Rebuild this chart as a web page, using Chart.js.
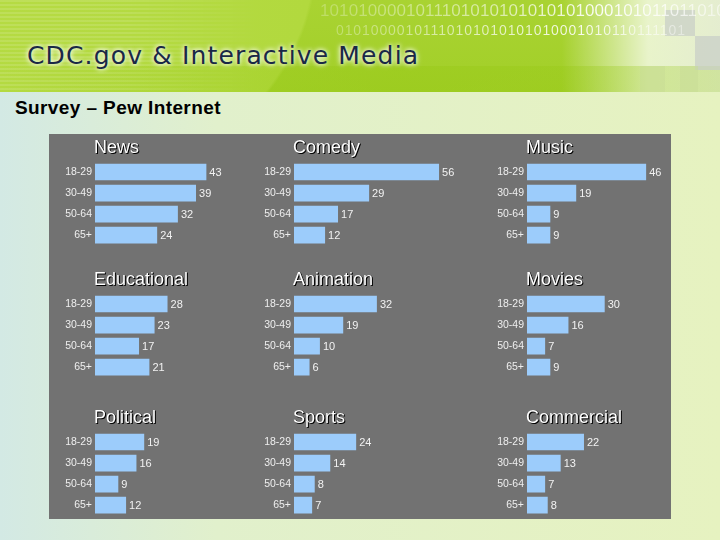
<!DOCTYPE html>
<html>
<head>
<meta charset="utf-8">
<script src="https://cdn.jsdelivr.net/npm/chart.js@4.4.1/dist/chart.umd.min.js"></script>
<style>
  body { margin:0; width:720px; height:540px; overflow:hidden; position:relative;
         background: linear-gradient(to right, #d3e9e4 0%, #e1f0cc 30%, #e6f2c0 100%);
         font-family: "Liberation Sans", Arial, sans-serif; }
  #banner { position:absolute; left:0; top:0; width:720px; height:92px; overflow:hidden;
            background:
              linear-gradient(to right, rgba(255,255,255,0) 0%, rgba(255,255,255,0) 78%, rgba(255,255,255,0.75) 90%, rgba(235,240,225,0.9) 100%),
              radial-gradient(ellipse 330px 260px at 0px -40px, #b6db44 0%, #b2d93e 95%, rgba(178,217,62,0) 96%),
              linear-gradient(#a9d332, #a2cf28); }
  #stripes { position:absolute; left:0; top:0; width:260px; height:92px;
             background: repeating-linear-gradient(to bottom, rgba(255,255,255,0.12) 0 2px, rgba(255,255,255,0) 2px 4px);
             -webkit-mask-image: linear-gradient(to right, #000 0%, #000 50%, transparent 100%); }
  #lowband { position:absolute; left:0; top:66px; width:720px; height:26px;
             background: linear-gradient(to right, rgba(168,210,40,0) 0%, rgba(150,200,20,0.4) 55%, rgba(150,200,20,0.25) 100%); }
  .sq { position:absolute; background: rgba(200,205,200,0.7); }
  .bin { position:absolute; white-space:nowrap; color:transparent;
         -webkit-background-clip:text; background-clip:text; }
  #bin1 { left:320px; top:1px; font-size:17px; letter-spacing:0.1px;
          background-image: linear-gradient(to right, rgba(255,255,255,0.25) 0%, rgba(255,255,255,0.6) 45%, rgba(255,255,255,0.95) 70%, rgba(255,255,255,0.5) 100%); }
  #bin2 { left:336px; top:22px; font-size:14px; letter-spacing:0.9px;
          background-image: linear-gradient(to right, rgba(255,255,255,0.3) 0%, rgba(255,255,255,0.7) 45%, rgba(255,255,255,0.9) 70%, rgba(255,255,255,0.4) 100%); }
  #htitle { position:absolute; left:27px; top:41px; font-family:"DejaVu Sans", sans-serif;
            font-size:25px; letter-spacing:1.15px; color:#1a2846;
            text-shadow: 0 0 4px #fff, 0 0 6px rgba(255,255,255,0.8); }
  #sub { position:absolute; left:15px; top:97px; font-size:19px; font-weight:bold; letter-spacing:0.4px; color:#000; }
  #panel { position:absolute; left:49px; top:134px; width:622px; height:385px; background:#727272; }
  canvas { position:absolute; }
</style>
</head>
<body>
<div id="banner">
  <div id="stripes"></div>
  <div id="lowband"></div>
  <div class="sq" style="left:665px; top:10px; width:30px; height:26px;"></div>
  <div class="sq" style="left:695px; top:36px; width:25px; height:34px;"></div>
  <div class="sq" style="left:640px; top:66px; width:25px; height:26px; background:rgba(200,220,150,0.5)"></div>
  <div class="sq" style="left:680px; top:66px; width:18px; height:26px; background:rgba(200,220,150,0.5)"></div>
  <div class="bin" id="bin1">1010100001011101010101010101000101011011010</div>
  <div class="bin" id="bin2">01010000101110101010101010001010110111101</div>
  <div id="htitle">CDC.gov &amp; Interactive Media</div>
</div>
<div id="sub">Survey – Pew Internet</div>
<div id="panel"></div>

<script>
// age groups (y categories)
const ageGroups = ['18-29', '30-49', '50-64', '65+'];

// one small array per topic, values in percent
const news        = [43, 39, 32, 24];
const comedy      = [56, 29, 17, 12];
const music       = [46, 19, 9, 9];
const educational = [28, 23, 17, 21];
const animation   = [32, 19, 10, 6];
const movies      = [30, 16, 7, 9];
const political   = [19, 16, 9, 12];
const sports      = [24, 14, 8, 7];
const commercial  = [22, 13, 7, 8];

const topics = ['News', 'Comedy', 'Music', 'Educational', 'Animation', 'Movies', 'Political', 'Sports', 'Commercial'];
const topicData = [news, comedy, music, educational, animation, movies, political, sports, commercial];

const colLeft = [63, 262, 495];
const colWidth = [196, 196, 176];
const rowTop = [133, 265, 403];
const AXIS_W = 32;
const PX_PER_UNIT = 2.59;

// draws the topic title and the value next to every bar
const labelPlugin = {
  id: 'labelPlugin',
  afterDatasetsDraw(chart) {
    const ctx = chart.ctx;
    const meta = chart.getDatasetMeta(0);
    ctx.save();
    ctx.font = '11px "Liberation Sans", Arial, sans-serif';
    ctx.fillStyle = '#f2f2f2';
    ctx.textAlign = 'left';
    ctx.textBaseline = 'middle';
    meta.data.forEach((bar, i) => {
      ctx.fillText(chart.data.datasets[0].data[i], bar.x + 3, bar.y + 1);
    });
    const t = chart.options.plugins.labelPlugin.title;
    ctx.font = '18px "Liberation Sans", Arial, sans-serif';
    ctx.textBaseline = 'middle';
    const tx = chart.chartArea.left - 1, ty = chart.chartArea.top - 13.5;
    ctx.fillStyle = '#000';
    ctx.fillText(t, tx + 1, ty + 1);
    ctx.fillText(t, tx + 0.5, ty + 0.5);
    ctx.fillStyle = '#fff';
    ctx.fillText(t, tx, ty);
    ctx.restore();
  }
};

for (let i = 0; i < topics.length; i++) {
  const col = i % 3, row = Math.floor(i / 3);
  const canvas = document.createElement('canvas');
  canvas.width = colWidth[col];
  canvas.height = 122;
  canvas.style.left = colLeft[col] + 'px';
  canvas.style.top = rowTop[row] + 'px';
  document.body.appendChild(canvas);

  new Chart(canvas.getContext('2d'), {
    type: 'bar',
    data: {
      labels: ageGroups,
      datasets: [{
        data: topicData[i],
        backgroundColor: '#9cccfb',
        borderWidth: 0,
        categoryPercentage: 1,
        barPercentage: 0.79
      }]
    },
    options: {
      indexAxis: 'y',
      responsive: false,
      animation: false,
      devicePixelRatio: 1,
      layout: { padding: { top: 28.5, bottom: 0, left: 0, right: 0 } },
      plugins: {
        legend: { display: false },
        tooltip: { enabled: false },
        labelPlugin: { title: topics[i] }
      },
      scales: {
        x: { display: false, min: 0, max: (colWidth[col] - AXIS_W) / PX_PER_UNIT },
        y: {
          grid: { display: false, drawTicks: false },
          border: { display: false },
          ticks: { color: '#eeeeee', padding: 3, font: { size: 10.5, family: '"Liberation Sans", Arial, sans-serif' } },
          afterFit: (s) => { s.width = AXIS_W; }
        }
      }
    },
    plugins: [labelPlugin]
  });
}
</script>
</body>
</html>
